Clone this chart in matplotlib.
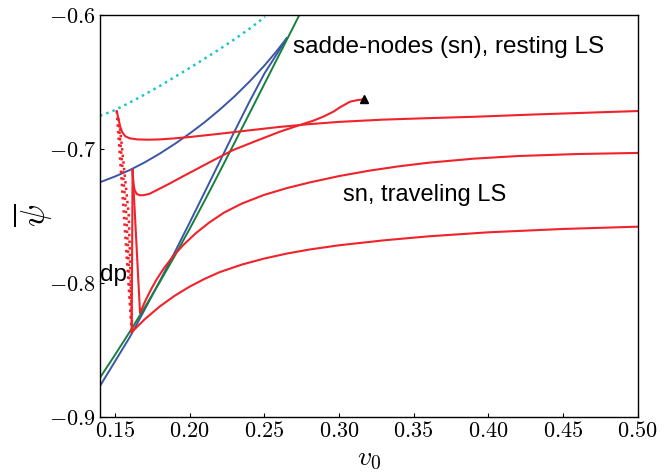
import matplotlib
matplotlib.use("Agg")
import matplotlib.pyplot as plt
from matplotlib.ticker import FuncFormatter, MultipleLocator

plt.rcParams['mathtext.fontset'] = 'cm'

# cyan dotted curve (upper boundary)
cyan_v = [0.140, 0.150, 0.160, 0.170, 0.180, 0.190, 0.200, 0.210, 0.220, 0.230, 0.240, 0.2505]
cyan_y = [-0.6750, -0.6707, -0.6650, -0.6590, -0.6527, -0.6460, -0.6392, -0.6323, -0.6252, -0.6178, -0.6100, -0.6010]

# blue curves (two branches meeting at the top)
blue_up_v = [0.140, 0.150, 0.1601, 0.170, 0.180, 0.190, 0.200, 0.210, 0.220, 0.230, 0.240, 0.250, 0.258, 0.265]
blue_up_y = [-0.7246, -0.7203, -0.7154, -0.7097, -0.7032, -0.6960, -0.6882, -0.6798, -0.6705, -0.6605, -0.6495, -0.6375, -0.6270, -0.6170]
blue_lo_v = [0.140, 0.150, 0.1601, 0.170, 0.180, 0.190, 0.200, 0.210, 0.220, 0.230, 0.240, 0.250, 0.258, 0.265]
blue_lo_y = [-0.8768, -0.8585, -0.8400, -0.8195, -0.7985, -0.7770, -0.7548, -0.7322, -0.7095, -0.6867, -0.6645, -0.6435, -0.6295, -0.6170]

# green curve
green_v = [0.140, 0.150, 0.160, 0.170, 0.180, 0.190, 0.200, 0.210, 0.220, 0.230, 0.240, 0.250, 0.260, 0.270, 0.2733]
green_y = [-0.8706, -0.8536, -0.8362, -0.8180, -0.7992, -0.7797, -0.7595, -0.7385, -0.7170, -0.6952, -0.6733, -0.6513, -0.6293, -0.6073, -0.6000]

# red solid branches
red1_v = [0.1512, 0.1518, 0.1525, 0.1535, 0.155, 0.157, 0.160, 0.165, 0.172, 0.180, 0.190, 0.200, 0.220,
          0.240, 0.260, 0.280, 0.300, 0.330, 0.360, 0.390, 0.430, 0.470, 0.500]
red1_y = [-0.6714, -0.6745, -0.6780, -0.6830, -0.6875, -0.6903, -0.6918, -0.6926, -0.6928, -0.6926, -0.6918, -0.6908, -0.6884,
          -0.6858, -0.6833, -0.6812, -0.6795, -0.6778, -0.6767, -0.6757, -0.6740, -0.6725, -0.6714]

red2_v = [0.1618, 0.1620, 0.1624, 0.1632, 0.1645, 0.1665, 0.169, 0.173, 0.178, 0.1869, 0.195, 0.205, 0.215, 0.2292,
          0.245, 0.2605, 0.2739, 0.2828, 0.2895, 0.2962, 0.3007, 0.3074, 0.312, 0.3168]
red2_y = [-0.7154, -0.7200, -0.7260, -0.7305, -0.7332, -0.7343, -0.7343, -0.7333, -0.7305, -0.7254, -0.7205, -0.7146, -0.7087, -0.7005,
          -0.6935, -0.6868, -0.6818, -0.6786, -0.6756, -0.6719, -0.6686, -0.6644, -0.6633, -0.6626]

# starts at the lower cusp, drops to the bottom of the V, then rises to the right
red3_v = [0.1618, 0.1668, 0.1700, 0.1740, 0.1780, 0.1830, 0.1890, 0.1960, 0.2040, 0.2130, 0.2230, 0.2350,
          0.2500, 0.2650, 0.2806, 0.3000, 0.3200, 0.3400, 0.3600, 0.3900, 0.4200, 0.4600, 0.500]
red3_y = [-0.7154, -0.8223, -0.8140, -0.8050, -0.7970, -0.7885, -0.7798, -0.7712, -0.7628, -0.7548, -0.7473, -0.7405,
          -0.7340, -0.7290, -0.7247, -0.7200, -0.7160, -0.7127, -0.7100, -0.7070, -0.7050, -0.7035, -0.7027]

red4_v = [0.1612, 0.170, 0.180, 0.190, 0.200, 0.210, 0.220, 0.235, 0.250, 0.265, 0.280, 0.300,
          0.330, 0.360, 0.400, 0.450, 0.500]
red4_y = [-0.8366, -0.8269, -0.8174, -0.8094, -0.8026, -0.7968, -0.7918, -0.7861, -0.7816, -0.7779, -0.7749, -0.7717,
          -0.7680, -0.7650, -0.7620, -0.7595, -0.7578]

# near vertical solid segment from the lower cusp down to dp
red5_v = [0.1618, 0.1612]
red5_y = [-0.7154, -0.8366]

# red dotted segments from the upper cusp down to dp
dot1_v = [0.1512, 0.1560, 0.1612]
dot1_y = [-0.6714, -0.7486, -0.8366]
dot2_v = [0.1523, 0.1576, 0.1614]
dot2_y = [-0.6768, -0.7486, -0.8366]
dot3_v = [0.1534, 0.1592, 0.1616]
dot3_y = [-0.6843, -0.7486, -0.8366]

tri_v = [0.3168]
tri_y = [-0.6626]

c_red = '#f0222a'
c_blue = '#3a56a6'
c_green = '#17803c'
c_cyan = '#1cc4cc'

fig = plt.figure(figsize=(6.69, 4.72), dpi=100)
ax = fig.add_axes([0.1495, 0.1165, 0.8037, 0.8507])

ax.plot(cyan_v, cyan_y, ':', color=c_cyan, lw=1.8)
ax.plot(blue_up_v, blue_up_y, '-', color=c_blue, lw=1.4)
ax.plot(blue_lo_v, blue_lo_y, '-', color=c_blue, lw=1.4)
ax.plot(green_v, green_y, '-', color=c_green, lw=1.4)
for vv, yy in [(red1_v, red1_y), (red2_v, red2_y), (red3_v, red3_y), (red4_v, red4_y), (red5_v, red5_y)]:
    ax.plot(vv, yy, '-', color=c_red, lw=1.5)
for vv, yy in [(dot1_v, dot1_y), (dot2_v, dot2_y), (dot3_v, dot3_y)]:
    ax.plot(vv, yy, ':', color=c_red, lw=1.8)
ax.plot(tri_v, tri_y, '^', color='black', ms=6)

ax.text(0.2692, -0.6235, 'sadde-nodes (sn), resting LS', fontsize=17.5,
        family='Liberation Sans', va='center', ha='left')
ax.text(0.3027, -0.7341, 'sn, traveling LS', fontsize=17,
        family='Liberation Sans', va='center', ha='left')
ax.text(0.1400, -0.7939, 'dp', fontsize=17.5,
        family='Liberation Sans', va='center', ha='left')

ax.set_xlim(0.14, 0.50)
ax.set_ylim(-0.9, -0.6)
ax.xaxis.set_major_locator(MultipleLocator(0.05))
ax.yaxis.set_major_locator(MultipleLocator(0.1))
ax.xaxis.set_major_formatter(FuncFormatter(lambda x, p: '$%.2f$' % x))
ax.yaxis.set_major_formatter(FuncFormatter(lambda y, p: '$%.1f$' % y))
ax.tick_params(direction='in', length=3, width=0.8, labelsize=16, pad=3)
for s in ax.spines.values():
    s.set_linewidth(1.0)

ax.set_xlabel(r'$v_0$', fontsize=20)
ax.xaxis.set_label_coords(0.50, -0.066)
ax.set_ylabel(r'$\overline{\psi}$', fontsize=24)
ax.yaxis.set_label_coords(-0.086, 0.503)

fig.savefig('out.png', dpi=100)
